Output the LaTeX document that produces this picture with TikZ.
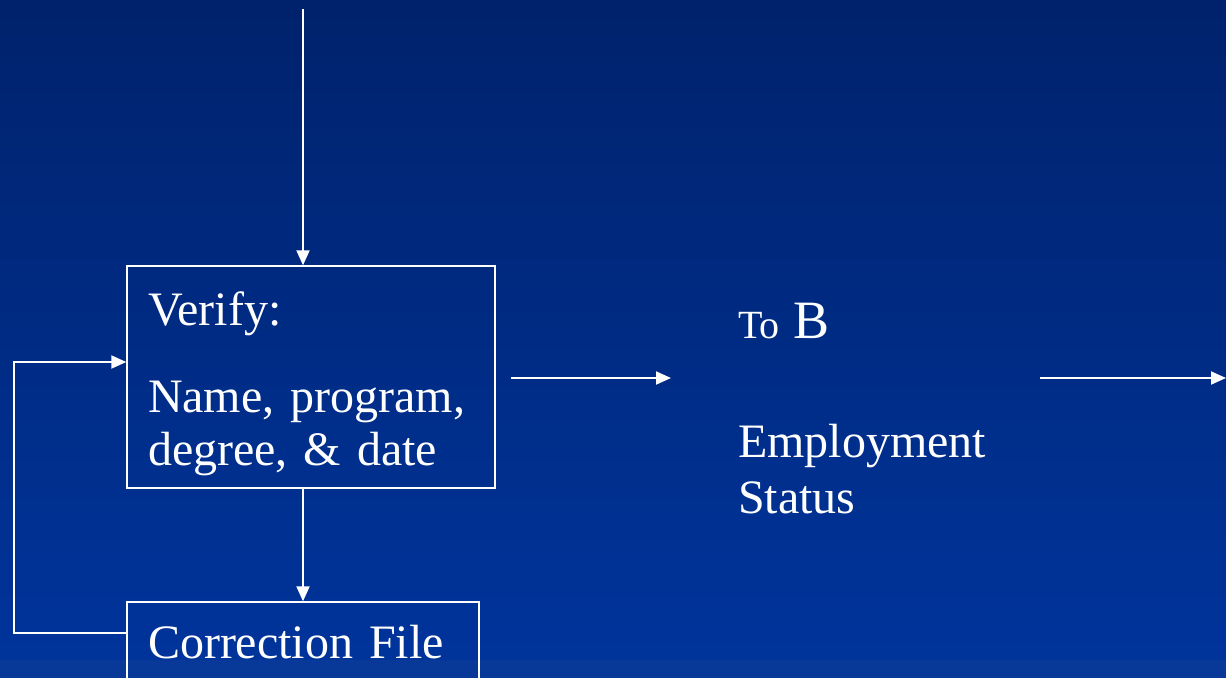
\documentclass[tikz,border=0pt]{standalone}
\usepackage{fontspec}
\setmainfont{Liberation Serif}
\usepackage{tikz}
\usetikzlibrary{positioning,calc,arrows.meta}
\definecolor{SlideTop}{RGB}{0,34,108}
\definecolor{SlideBottom}{RGB}{0,52,155}
\definecolor{SlideBand}{RGB}{8,57,152}
\tikzset{
    flow/.style={draw=white, line width=1.9pt, -{Triangle[length=15pt,width=13pt]}},
    stepbox/.style={rectangle, draw=white, line width=1.4pt,
        inner xsep=21pt, inner ysep=0pt, align=left, text=white,
        font=\fontsize{48}{53}\selectfont}
}
\begin{document}
\begin{tikzpicture}[x=1pt, y=-1pt]
    % --- NỀN ---
    \useasboundingbox (0,0) rectangle (1226,678);
    \shade[top color=SlideTop, bottom color=SlideBottom] (0,0) rectangle (1226,660);
    \fill[SlideBand] (0,660) rectangle (1226,678);

    % --- CÁC HỘP ---
    \node[stepbox, text width=326pt, minimum height=222pt] (verify) at (311,377)
        {\rule{0pt}{47pt}Verify:\\[34pt]Name, program,\\degree, \& date};
    \node[stepbox, text width=310pt, minimum height=80pt] (correction) at (303,642)
        {Correction File};

    % --- CHỮ BÊN PHẢI ---
    \node[anchor=base west, inner sep=0pt, text=white] (tob) at (738,338)
        {{\fontsize{40}{48}\selectfont To}{\fontsize{54}{56}\selectfont\ B}};
    \node[anchor=north west, inner sep=0pt, text=white, align=left,
        font=\fontsize{48}{56}\selectfont] (status) at (738,424)
        {Employment\\Status};

    % --- ĐIỂM ĐẦU/CUỐI ---
    \coordinate (start) at (303,9);
    \coordinate (outA) at (511,378);
    \coordinate (inB) at (671,378);
    \coordinate (outB) at (1040,378);
    \coordinate (next) at (1226,378);

    % --- MŨI TÊN ---
    \draw[flow] (start) -- (start |- verify.north);
    \draw[flow] (correction.north |- verify.south) -- (correction.north);
    \draw[flow] (outA) -- (inB);
    \draw[flow] (outB) -- (next);
    \draw[flow] ([yshift=-32pt]correction.north west) -- ++(-112,0)
        |- ([yshift=15pt]verify.west);
\end{tikzpicture}
\end{document}
